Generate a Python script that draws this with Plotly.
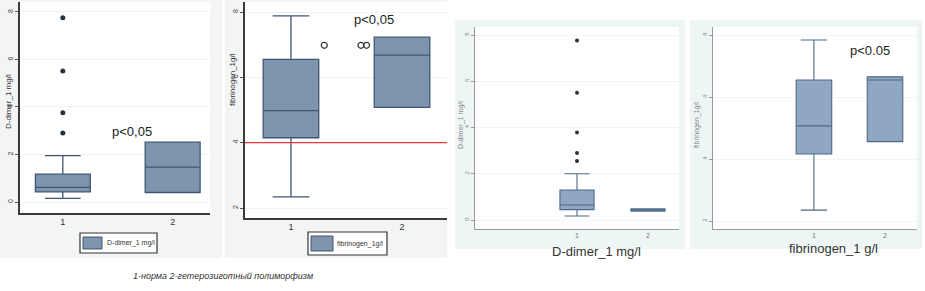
import plotly.graph_objects as go

W, H = 925, 291

# ---------------- data ----------------
groups = [1, 2]
tick_vals_dd = [0, 2, 4, 6, 8]
tick_vals_fb = [2, 4, 6, 8]
group_ticks = ["1", "2"]

# Panel 1: D-dimer_1 mg/l (left pair)
dd_q1 = [0.43, 0.40]
dd_med = [0.62, 1.47]
dd_q3 = [1.17, 2.52]
dd_lo = [0.15, 0.40]
dd_hi = [1.95, 2.52]
dd_out_x = [1, 1, 1, 1]
dd_out_y = [2.90, 3.76, 5.52, 7.76]

# Panel 2: fibrinogen_1 g/l (left pair)
fb_q1 = [4.15, 5.08]
fb_med = [4.98, 6.68]
fb_q3 = [6.55, 7.23]
fb_lo = [2.34, 5.08]
fb_hi = [7.88, 7.23]
fb_out_x = [1.30, 1.63, 1.68]
fb_out_y = [6.98, 6.98, 6.98]
fb_ref = 4

# Panel 3: D-dimer_1 mg/l (right pair)
dd2_q1 = [0.45, 0.38]
dd2_med = [0.65, 0.43]
dd2_q3 = [1.30, 0.48]
dd2_lo = [0.17, 0.38]
dd2_hi = [2.00, 0.48]
dd2_out_x = [1, 1, 1, 1, 1]
dd2_out_y = [2.55, 2.90, 3.78, 5.50, 7.76]

# Panel 4: fibrinogen_1 g/l (right pair)
fb2_q1 = [4.16, 4.56]
fb2_med = [5.07, 6.55]
fb2_q3 = [6.55, 6.65]
fb2_lo = [2.35, 4.56]
fb2_hi = [7.84, 6.65]

# ---------------- helpers ----------------
def px_x(p):
    return p / W


def px_y(p):
    return 1 - p / H


FONT = "Arial, Liberation Sans, sans-serif"
fig = go.Figure()

BOX_A = dict(fillcolor="#7f95ae", line=dict(color="#3f5772", width=1.3))
BOX_B = dict(fillcolor="#90a7c1", line=dict(color="#4f6987", width=1.1))


def add_box(xa, ya, q1, med, q3, lo, hi, width, ww, style):
    fig.add_trace(go.Box(
        x=groups, q1=q1, median=med, q3=q3, lowerfence=lo, upperfence=hi,
        width=width, whiskerwidth=ww, boxpoints=False, showlegend=False,
        xaxis=xa, yaxis=ya, hoverinfo="skip", **style))


add_box("x", "y", dd_q1, dd_med, dd_q3, dd_lo, dd_hi, 0.5, 0.65, BOX_A)
fig.add_trace(go.Scatter(x=dd_out_x, y=dd_out_y, mode="markers", xaxis="x", yaxis="y",
                         marker=dict(color="#27313b", size=5), showlegend=False))

add_box("x2", "y2", fb_q1, fb_med, fb_q3, fb_lo, fb_hi, 0.5, 0.66, BOX_A)
fig.add_trace(go.Scatter(x=fb_out_x, y=fb_out_y, mode="markers", xaxis="x2", yaxis="y2",
                         marker=dict(color="#333", size=6, symbol="circle-open",
                                     line=dict(width=1.2, color="#333")), showlegend=False))

add_box("x3", "y3", dd2_q1, dd2_med, dd2_q3, dd2_lo, dd2_hi, 0.48, 0.73, BOX_B)
fig.add_trace(go.Scatter(x=dd2_out_x, y=dd2_out_y, mode="markers", xaxis="x3", yaxis="y3",
                         marker=dict(color="#2d333a", size=4), showlegend=False))

add_box("x4", "y4", fb2_q1, fb2_med, fb2_q3, fb2_lo, fb2_hi, 0.5, 0.74, BOX_B)

# ---------------- axes ----------------
def xaxis(dom, rng, dark=True):
    return dict(domain=[px_x(dom[0]), px_x(dom[1])], range=rng, tickvals=groups,
                ticktext=group_ticks, showgrid=False, zeroline=False,
                showline=True, linecolor="#3a3a3a" if dark else "#9a9a9a",
                linewidth=1.6 if dark else 1, ticks="", fixedrange=True,
                tickfont=dict(size=9 if dark else 7, color="#333" if dark else "#777", family=FONT))


def yaxis(dom, rng, tv, dark=True):
    return dict(domain=[px_y(dom[1]), px_y(dom[0])], range=rng, tickvals=tv,
                showgrid=True, gridcolor="#f1f1ee" if dark else "#f2f5f5", gridwidth=1,
                zeroline=False, showline=True, fixedrange=True,
                linecolor="#3a3a3a" if dark else "#9a9a9a",
                linewidth=1.6 if dark else 1, ticks="outside", ticklen=3,
                tickcolor="#555" if dark else "#999", tickangle=-90,
                tickfont=dict(size=7 if dark else 6, color="#444" if dark else "#888", family=FONT))


layout_axes = dict(
    xaxis=dict(anchor="y", **xaxis((20, 210), [0.61, 2.34])),
    yaxis=dict(anchor="x", **yaxis((2, 213), [-0.463, 8.42], tick_vals_dd)),
    xaxis2=dict(anchor="y2", **xaxis((245, 447), [0.586, 2.405])),
    yaxis2=dict(anchor="x2", **yaxis((2, 218), [1.694, 8.306], tick_vals_fb)),
    xaxis3=dict(anchor="y3", **xaxis((475, 679), [-0.437, 2.437], dark=False)),
    yaxis3=dict(anchor="x3", **yaxis((27, 229), [-0.389, 8.346], tick_vals_dd, dark=False)),
    xaxis4=dict(anchor="y4", **xaxis((713, 917), [-0.42, 2.45], dark=False)),
    yaxis4=dict(anchor="x4", **yaxis((27, 229), [1.742, 8.258], tick_vals_fb, dark=False)),
)

# ---------------- backgrounds ----------------
shapes = []


def rect(x0, y0, x1, y1, fill, line=None, lw=0):
    shapes.append(dict(type="rect", xref="paper", yref="paper", layer="below",
                       x0=px_x(x0), x1=px_x(x1), y0=px_y(y1), y1=px_y(y0),
                       fillcolor=fill, line=dict(width=lw, color=line or fill)))


rect(0, 0, 222, 258, "#f3f4f4")
rect(20, 2, 210, 213, "#ffffff")
rect(225, 0, 447, 258, "#f3f4f4")
rect(245, 2, 447, 218, "#ffffff")
rect(455, 20, 685, 249, "#edf5f5")
rect(475, 27, 679, 229, "#ffffff")
rect(690, 20, 922, 249, "#edf5f5")
rect(713, 27, 917, 229, "#ffffff")

# legend boxes (panel 1 and 2)
for (bx0, by0, bx1, by1, sx1) in [(80, 233, 157, 253, 102), (308, 232, 387, 255, 333)]:
    shapes.append(dict(type="rect", xref="paper", yref="paper",
                       x0=px_x(bx0), x1=px_x(bx1), y0=px_y(by1), y1=px_y(by0),
                       fillcolor="#ffffff", line=dict(width=1.2, color="#333")))
    shapes.append(dict(type="rect", xref="paper", yref="paper",
                       x0=px_x(bx0 + 3), x1=px_x(sx1), y0=px_y(by1 - 4), y1=px_y(by0 + 4),
                       fillcolor="#7f95ae", line=dict(width=1, color="#3f5772")))

# red reference line in panel 2
shapes.append(dict(type="line", xref="x2 domain", yref="y2", x0=0, x1=1,
                   y0=fb_ref, y1=fb_ref, line=dict(color="#e03a3e", width=1.4)))

# ---------------- text ----------------
ann = []


def text(x, y, s, size, color="#222", angle=0, italic=False, xanchor="center"):
    ann.append(dict(x=px_x(x), y=px_y(y), xref="paper", yref="paper", text=s,
                    showarrow=False, textangle=angle, xanchor=xanchor, yanchor="middle",
                    font=dict(size=size, color=color, family=FONT,
                              style="italic" if italic else "normal")))


text(8, 102, "D-dimer_1 mg/l", 8, "#333", -90)
text(232, 80, "fibrinogen_1g/l", 8, "#333", -90)
text(461, 125, "D-dimer_1 mg/l", 7, "#888", -90)
text(697, 125, "fibrinogen_1g/l", 7, "#888", -90)

text(132, 131, "p&lt;0,05", 13, "#222")
text(374, 20, "p&lt;0,05", 13, "#222")
text(870, 50, "p&lt;0.05", 13, "#222")

text(105, 243, "D-dimer_1 mg/l", 7, "#333", xanchor="left")
text(335, 243.5, "fibrinogen_1g/l", 7, "#333", xanchor="left")

text(596, 251, "D-dimer_1 mg/l", 13, "#333")
text(833, 248, "fibrinogen_1 g/l", 13, "#333")

text(223, 276, "1-норма 2-гетерозиготный полиморфизм", 9, "#333", italic=True)

fig.update_layout(
    width=W, height=H, margin=dict(l=0, r=0, t=0, b=0),
    paper_bgcolor="#ffffff", plot_bgcolor="rgba(0,0,0,0)",
    showlegend=False, shapes=shapes, annotations=ann, hovermode=False,
    font=dict(family=FONT), **layout_axes)

fig.write_html("out.html", config={"displayModeBar": False, "staticPlot": True},
               post_script="document.body.style.margin='0';document.body.style.overflow='hidden';")
